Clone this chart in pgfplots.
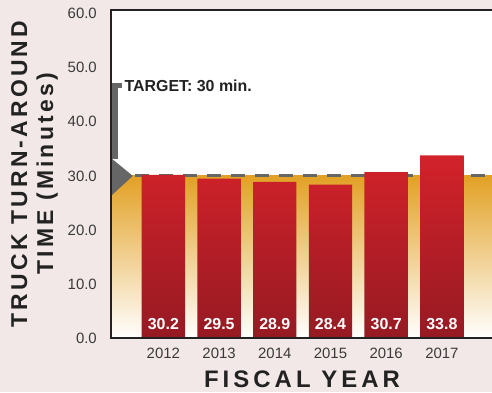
\documentclass[border=0pt]{standalone}
\usepackage{pgfplots}
\pgfplotsset{compat=1.18}
\usepackage{fontspec}
\setmainfont{Liberation Sans}
\newfontfamily\spacedA{Liberation Sans}[LetterSpace=14]
\newfontfamily\spacedB{Liberation Sans}[LetterSpace=17]
\definecolor{bgpink}{HTML}{F3E8E8}
\definecolor{barTop}{HTML}{D3222A}
\definecolor{barBot}{HTML}{961A23}
\definecolor{orangeTop}{HTML}{E2A125}
\definecolor{markgray}{HTML}{666666}
\definecolor{txt}{HTML}{3A3A3A}
\definecolor{head}{HTML}{222222}
\begin{document}
\begin{tikzpicture}[x=1bp,y=1bp]
\fill[bgpink] (0,0) rectangle (492,392);
\useasboundingbox (0,0) rectangle (492,392);
\begin{axis}[
  at={(111bp,54bp)}, anchor=south west, scale only axis,
  width=381bp, height=328bp,
  xmin=-0.94, xmax=5.9, ymin=0, ymax=60.7,
  axis line style={draw=none},
  axis background/.style={fill=white},
  clip=false,
  xtick={0,1,2,3,4,5},
  xticklabels={2012,2013,2014,2015,2016,2017},
  ytick={0,10,20,30,40,50,60},
  major tick length=0pt,
  /pgf/number format/fixed,
  /pgf/number format/fixed zerofill,
  /pgf/number format/precision=1,
  /pgf/number format/assume math mode=true,
  yticklabel style={anchor=east, inner sep=0pt, xshift=-14bp, text=txt, font=\fontsize{15}{15}\selectfont},
  xticklabel style={anchor=north, inner sep=0pt, yshift=-10bp, text=txt, font=\fontsize{15}{15}\selectfont},
]
% target zone gradient
\addplot[draw=none, top color=orangeTop, bottom color=white] coordinates {(-0.94,30) (5.9,30)} \closedcycle;
% target dashed line
\addplot[markgray, line width=3bp, dash pattern=on 14bp off 10bp] coordinates {(-0.51,30) (5.9,30)};
% bars
\addplot[ybar, bar width=0.78, draw=none, top color=barTop, bottom color=barBot]
  coordinates {(0,30.2) (1,29.5) (2,28.9) (3,28.4) (4,30.7) (5,33.8)};
% value labels
\addplot[draw=none, nodes near coords, point meta=explicit symbolic,
  nodes near coords style={anchor=center, text=white, font=\bfseries\fontsize{16}{16}\selectfont}]
  coordinates {(0,2.6)[30.2] (1,2.6)[29.5] (2,2.6)[28.9] (3,2.6)[28.4] (4,2.6)[30.7] (5,2.6)[33.8]};
% target marker
\fill[markgray] (axis cs:-0.94,33.3) -- (axis cs:-0.548,30) -- (axis cs:-0.94,26.3) -- cycle;
\fill[markgray] (axis cs:-0.94,33.2) rectangle (axis cs:-0.817,46.7);
\fill[markgray] (axis cs:-0.94,46.2) rectangle (axis cs:-0.745,47.2);
\node[anchor=west, inner sep=0pt, text=head, font=\bfseries\fontsize{16}{16}\selectfont] at (axis cs:-0.70,46.7) {TARGET: 30 min.};
% frame
\draw[line width=2.5bp, head, line cap=rect] (rel axis cs:1,1) -- (rel axis cs:0,1) -- (rel axis cs:0,0) -- (rel axis cs:1,0);
\end{axis}
\node[rotate=90, anchor=base, inner sep=0pt, text=head, font=\spacedA\bfseries\fontsize{23}{23}\selectfont] at (27,218) {TRUCK TURN-AROUND};
\node[rotate=90, anchor=base, inner sep=0pt, text=head, font=\spacedA\bfseries\fontsize{23}{23}\selectfont] at (53,218) {TIME (Minutes)};
\node[anchor=base, inner sep=0pt, text=head, font=\spacedB\bfseries\fontsize{24}{24}\selectfont] at (302,5) {FISCAL YEAR};
\end{tikzpicture}
\end{document}
